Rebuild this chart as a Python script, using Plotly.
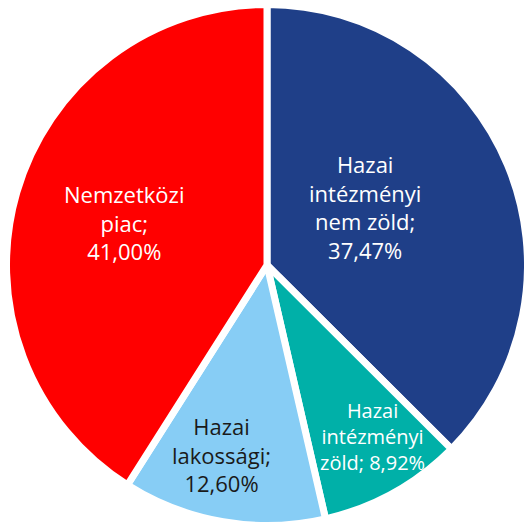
import plotly.graph_objects as go

labels = ["Hazai intézményi nem zöld", "Hazai intézményi zöld", "Hazai lakossági", "Nemzetközi piac"]
label_text = ["Hazai<br>intézményi<br>nem zöld;<br>", "Hazai<br>intézményi<br>zöld; ", "Hazai<br>lakossági;<br>", "Nemzetközi<br>piac;<br>"]
values = [37.47, 8.92, 12.60, 41.00]
colors = ["#1F3F88", "#00B0A8", "#87CDF5", "#FF0000"]
text_colors = ["white", "white", "#1a1a1a", "white"]
text_sizes = [22, 20, 22, 22]
# label anchor positions (paper fraction)
label_x = [0.6883, 0.7023, 0.4185, 0.2336]
label_y = [0.6094, 0.1757, 0.1419, 0.5808]

W, H = 530, 530
fig = go.Figure(go.Pie(
    labels=labels,
    values=values,
    textinfo="none",
    marker=dict(colors=colors, line=dict(color="white", width=7)),
    sort=False,
    direction="clockwise",
    rotation=0,
    hoverinfo="skip",
    domain=dict(x=[6.5 / W, 527.5 / W], y=[4.5 / H, 1 - 4.5 / H]),
    showlegend=False,
))
total = sum(values)
for t, v, c, s, x, y in zip(label_text, values, text_colors, text_sizes, label_x, label_y):
    pct = f"{100 * v / total:.2f}".replace(".", ",")
    fig.add_annotation(
        x=x, y=y, xref="paper", yref="paper",
        text=f"{t}{pct}%", showarrow=False,
        font=dict(family="Open Sans, Liberation Sans, sans-serif", size=s, color=c),
        align="center", xanchor="center", yanchor="middle",
    )
fig.update_layout(
    width=W, height=H,
    margin=dict(l=0, r=0, t=0, b=0),
    paper_bgcolor="white",
)
fig.write_html(
    "out.html",
    config={"displayModeBar": False},
    post_script="document.body.style.margin='0';document.body.style.overflow='hidden';",
)
